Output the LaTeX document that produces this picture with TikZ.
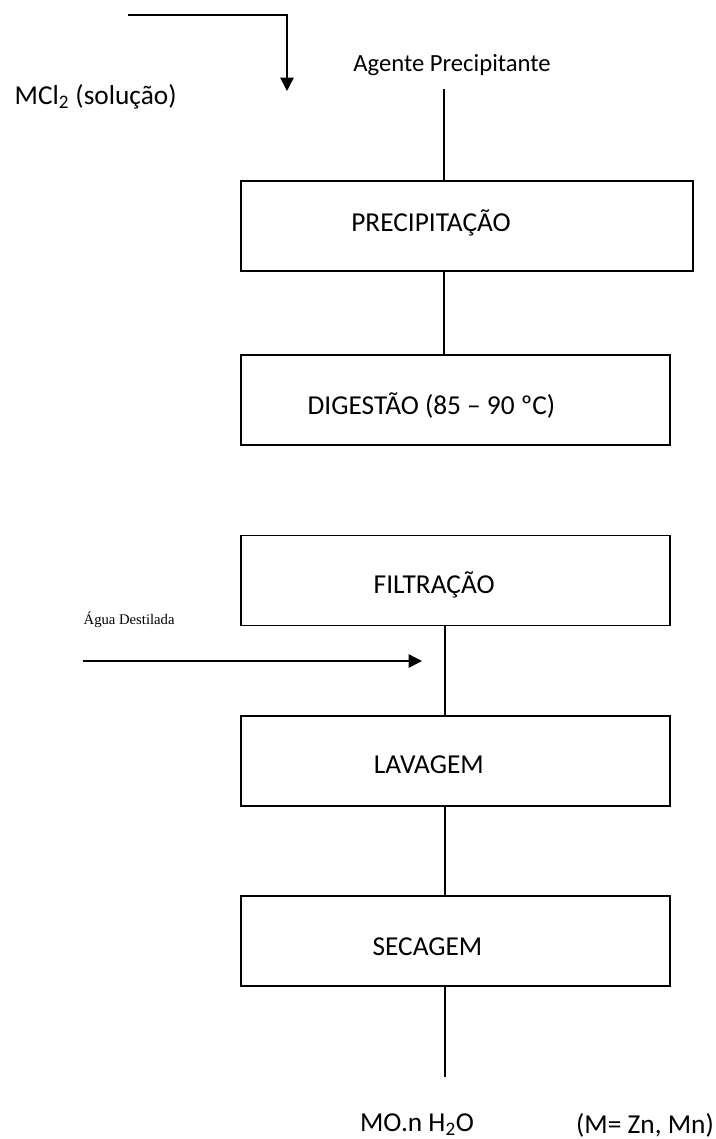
\documentclass[tikz,border=0pt]{standalone}
\usepackage{fontspec}
\setmainfont{Carlito}
\newfontfamily\serifdoc{Liberation Serif}
\usepackage{tikz}
\usetikzlibrary{positioning,arrows.meta,calc}
\tikzset{stepbox/.style = {draw=black, line width=1.4pt, minimum width=321.75pt, minimum height=67.5pt},
         flow/.style = {line width=1.1pt},
         feed/.style = {line width=1.1pt, -{Triangle[length=10pt, width=10pt]}},
         big/.style = {font=\fontsize{20.5}{24}\selectfont},
         small/.style = {font=\fontsize{18.5}{22}\selectfont}}

\begin{document}
\begin{tikzpicture}[x=0.75pt, y=-0.75pt, big]
            \useasboundingbox (0,0) rectangle (716,1139);

            \node [stepbox, minimum width=339pt,
                   label={[xshift=-27pt, yshift=2pt]center:PRECIPITAÇÃO}]      (prec) at (467,226)   {};
            \node [stepbox, label={[xshift=-18pt, yshift=-4pt]center:DIGESTÃO (85 – 90 ºC)}] (dig)  at (455.5,400) {};
            \node [stepbox, label={[xshift=-16pt, yshift=-3pt]center:FILTRAÇÃO}] (filt) at (455.5,580.5) {};
            \node [stepbox, label={[xshift=-20pt, yshift=-3pt]center:LAVAGEM}]   (lav)  at (455.5,761) {};
            \node [stepbox, label={[xshift=-21pt, yshift=-4pt]center:SECAGEM}]   (sec)  at (455.5,941) {};

            \node [anchor=west] (mcl)   at (10,97)  {MCl\textsubscript{2} (solução)};
            \node [small]       (agent) at (452,65) {Agente Precipitante};
            \node [anchor=west, font=\serifdoc\fontsize{11}{13}\selectfont] (agua) at (79,620) {Água Destilada};
            \node (prod) at (417,1125) {MO.n H\textsubscript{2}O};
            \node (mdef) at (645,1125) {(M= Zn, Mn)};

            \coordinate (feedA) at (128,15);
            \coordinate (feedB) at (287,91);
            \coordinate (agtop) at (444,89);
            \coordinate (washA) at (83,661);
            \coordinate (washB) at (422,661);
            \coordinate (outend) at (445,1077);

            \draw [feed] (feedA) -| (feedB);
            \draw [flow] (agtop) -- (agtop |- prec.north);
            \draw [flow] (prec.south -| agtop) -- (dig.north -| agtop);
            \draw [flow] (filt.south -| outend) -- (lav.north -| outend);
            \draw [flow] (lav.south -| outend) -- (sec.north -| outend);
            \draw [flow] (sec.south -| outend) -- (outend);
            \draw [feed] (washA) -- (washB);
        \end{tikzpicture}
\end{document}
